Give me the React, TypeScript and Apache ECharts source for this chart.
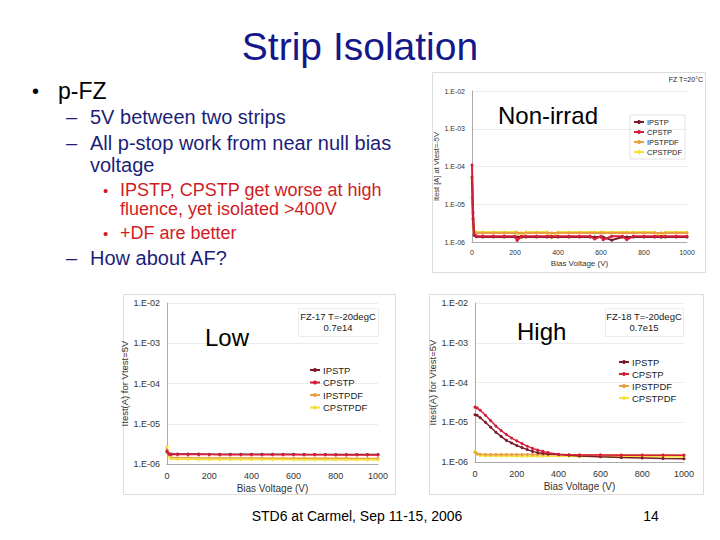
import React, { useEffect, useRef } from "react";
import * as echarts from "echarts";

// ---------- data ----------
const seriesNames = ["IPSTP", "CPSTP", "IPSTPDF", "CPSTPDF"];
const xTicks = [0, 200, 400, 600, 800, 1000];

// Non-irradiated (FZ T=20°C)
const voltsNon = [0, 5, 10, 20, 50, 100, 150, 200, 210, 230, 250, 300, 350, 370, 400, 450, 500, 550, 570, 600, 610, 650, 700, 720, 750, 800, 850, 880, 900, 950, 1000];
const nonIPSTP = [5.2e-5, 4e-6, 1.5e-6, 1.38e-6, 1.36e-6, 1.36e-6, 1.35e-6, 1.35e-6, 1.35e-6, 1.35e-6, 1.35e-6, 1.35e-6, 1.35e-6, 1.35e-6, 1.35e-6, 1.35e-6, 1.35e-6, 1.35e-6, 1.35e-6, 1.35e-6, 1.35e-6, 1.12e-6, 1.35e-6, 1.35e-6, 1.35e-6, 1.35e-6, 1.35e-6, 1.35e-6, 1.35e-6, 1.35e-6, 1.35e-6];
const nonCPSTP = [1.1e-4, 6e-6, 1.6e-6, 1.45e-6, 1.43e-6, 1.43e-6, 1.43e-6, 1.42e-6, 1.1e-6, 1.42e-6, 1.42e-6, 1.42e-6, 1.42e-6, 1.42e-6, 1.42e-6, 1.42e-6, 1.42e-6, 1.42e-6, 1.2e-6, 1.42e-6, 1.15e-6, 1.42e-6, 1.42e-6, 1.15e-6, 1.42e-6, 1.42e-6, 1.42e-6, 1.42e-6, 1.42e-6, 1.42e-6, 1.42e-6];
const nonIPSTPDF = [1.5e-5, 2.5e-6, 1.8e-6, 1.75e-6, 1.74e-6, 1.74e-6, 1.74e-6, 1.74e-6, 1.74e-6, 1.74e-6, 1.74e-6, 1.74e-6, 1.74e-6, 1.74e-6, 1.74e-6, 1.74e-6, 1.74e-6, 1.74e-6, 1.74e-6, 1.74e-6, 1.74e-6, 1.74e-6, 1.74e-6, 1.74e-6, 1.74e-6, 1.74e-6, 1.74e-6, 1.74e-6, 1.74e-6, 1.74e-6, 1.74e-6];
const nonCPSTPDF = [4.5e-5, 3e-6, 1.9e-6, 1.85e-6, 1.84e-6, 1.84e-6, 1.84e-6, 1.84e-6, 1.84e-6, 1.3e-6, 1.84e-6, 1.84e-6, 1.84e-6, 1.3e-6, 1.84e-6, 1.84e-6, 1.84e-6, 1.84e-6, 1.84e-6, 1.84e-6, 1.84e-6, 1.84e-6, 1.84e-6, 1.84e-6, 1.84e-6, 1.84e-6, 1.84e-6, 1.3e-6, 1.84e-6, 1.84e-6, 1.84e-6];

// Low fluence (FZ-17, 0.7e14)
const voltsLow = [0, 10, 20, 50, 100, 150, 200, 250, 300, 350, 400, 450, 500, 550, 600, 650, 700, 750, 800, 850, 900, 950, 1000];
const lowIPSTP = [2.0e-6, 1.8e-6, 1.77e-6, 1.76e-6, 1.76e-6, 1.76e-6, 1.75e-6, 1.75e-6, 1.75e-6, 1.75e-6, 1.75e-6, 1.74e-6, 1.74e-6, 1.74e-6, 1.74e-6, 1.73e-6, 1.73e-6, 1.73e-6, 1.72e-6, 1.72e-6, 1.72e-6, 1.71e-6, 1.71e-6];
const lowCPSTP = [2.1e-6, 1.75e-6, 1.72e-6, 1.72e-6, 1.71e-6, 1.71e-6, 1.71e-6, 1.7e-6, 1.7e-6, 1.7e-6, 1.7e-6, 1.7e-6, 1.7e-6, 1.7e-6, 1.69e-6, 1.69e-6, 1.69e-6, 1.69e-6, 1.68e-6, 1.68e-6, 1.68e-6, 1.68e-6, 1.68e-6];
const lowIPSTPDF = [2.3e-6, 1.6e-6, 1.45e-6, 1.42e-6, 1.42e-6, 1.41e-6, 1.41e-6, 1.41e-6, 1.4e-6, 1.4e-6, 1.4e-6, 1.4e-6, 1.39e-6, 1.39e-6, 1.39e-6, 1.39e-6, 1.38e-6, 1.38e-6, 1.38e-6, 1.38e-6, 1.37e-6, 1.37e-6, 1.37e-6];
const lowCPSTPDF = [2.7e-6, 1.5e-6, 1.33e-6, 1.31e-6, 1.31e-6, 1.3e-6, 1.3e-6, 1.3e-6, 1.3e-6, 1.3e-6, 1.29e-6, 1.29e-6, 1.29e-6, 1.29e-6, 1.28e-6, 1.28e-6, 1.28e-6, 1.28e-6, 1.27e-6, 1.27e-6, 1.27e-6, 1.26e-6, 1.26e-6];

// High fluence (FZ-18, 0.7e15)
const voltsHigh = [0, 10, 25, 50, 75, 100, 125, 150, 175, 200, 225, 250, 275, 300, 325, 350, 400, 450, 500, 600, 700, 800, 900, 1000];
const highIPSTP = [1.55e-5, 1.5e-5, 1.3e-5, 1.0e-5, 7.5e-6, 5.6e-6, 4.4e-6, 3.5e-6, 3.0e-6, 2.6e-6, 2.3e-6, 2.05e-6, 1.85e-6, 1.72e-6, 1.65e-6, 1.6e-6, 1.55e-6, 1.48e-6, 1.42e-6, 1.35e-6, 1.3e-6, 1.26e-6, 1.22e-6, 1.2e-6];
const highCPSTP = [2.4e-5, 2.3e-5, 2.0e-5, 1.5e-5, 1.1e-5, 8.0e-6, 6.2e-6, 4.9e-6, 4.0e-6, 3.4e-6, 2.9e-6, 2.5e-6, 2.2e-6, 2.0e-6, 1.85e-6, 1.72e-6, 1.56e-6, 1.52e-6, 1.5e-6, 1.49e-6, 1.48e-6, 1.48e-6, 1.47e-6, 1.47e-6];
const highIPSTPDF = [1.75e-6, 1.6e-6, 1.56e-6, 1.55e-6, 1.55e-6, 1.55e-6, 1.55e-6, 1.55e-6, 1.55e-6, 1.55e-6, 1.55e-6, 1.54e-6, 1.54e-6, 1.54e-6, 1.54e-6, 1.54e-6, 1.53e-6, 1.53e-6, 1.53e-6, 1.52e-6, 1.52e-6, 1.51e-6, 1.51e-6, 1.5e-6];
const highCPSTPDF = [1.85e-6, 1.6e-6, 1.45e-6, 1.42e-6, 1.41e-6, 1.41e-6, 1.41e-6, 1.41e-6, 1.41e-6, 1.4e-6, 1.4e-6, 1.4e-6, 1.4e-6, 1.4e-6, 1.4e-6, 1.4e-6, 1.39e-6, 1.39e-6, 1.38e-6, 1.38e-6, 1.37e-6, 1.36e-6, 1.36e-6, 1.35e-6];

const colors = ["#7a1a2a", "#d41f3c", "#e8a040", "#f2e23a"];

// ---------- helpers ----------
const zip = (xs: number[], ys: number[]) => xs.map((x, i) => [x, ys[i]]);
const fmtExp = (v: number) => {
  const e = Math.round(Math.log10(v));
  return "1.E-" + String(-e).padStart(2, "0");
};
const font = "'Liberation Sans', Arial, sans-serif";

function makeXAxis(gridIndex: number, fs: number, nameFs: number, nameGap: number) {
  return {
    type: "value",
    gridIndex,
    min: xTicks[0],
    max: xTicks[xTicks.length - 1],
    interval: 200,
    name: "Bias Voltage (V)",
    nameLocation: "middle",
    nameGap,
    nameTextStyle: { fontSize: nameFs, color: "#333", fontFamily: font },
    axisLine: { show: true, lineStyle: { color: "#aaa" } },
    axisTick: { show: false },
    axisLabel: { fontSize: fs, color: "#333", fontFamily: font, margin: 7, formatter: (v: number) => String(v) },
    splitLine: { show: false },
  };
}
function makeYAxis(gridIndex: number, name: string, fs: number, nameFs: number, nameGap: number) {
  return {
    type: "log",
    logBase: 10,
    gridIndex,
    min: 1e-6,
    max: 1e-2,
    name,
    nameLocation: "middle",
    nameGap,
    nameTextStyle: { fontSize: nameFs, color: "#333", fontFamily: font },
    axisLine: { show: true, lineStyle: { color: "#aaa" } },
    axisTick: { show: false },
    axisLabel: { fontSize: fs, color: "#333", fontFamily: font, margin: 7, formatter: fmtExp },
    splitLine: { show: true, lineStyle: { color: "#ececec", width: 1 } },
  };
}
function mkSeries(name: string, idx: number, axisIndex: number, xs: number[], ys: number[], lw: number, sym: number, z: number) {
  return {
    name,
    type: "line",
    xAxisIndex: axisIndex,
    yAxisIndex: axisIndex,
    data: zip(xs, ys),
    color: colors[idx],
    showSymbol: true,
    symbol: "circle",
    symbolSize: sym,
    lineStyle: { width: lw, color: colors[idx] },
    itemStyle: { color: colors[idx] },
    z,
  };
}
function mkLegend(left: number, top: number, fs: number, gap: number, border: boolean) {
  return {
    data: seriesNames,
    orient: "vertical",
    left,
    top,
    itemWidth: 10,
    itemHeight: 5,
    itemGap: gap,
    padding: border ? [3, 3, 3, 3] : 0,
    borderColor: border ? "#e2e2e2" : "transparent",
    borderWidth: border ? 1 : 0,
    textStyle: { fontSize: fs, color: "#222", fontFamily: font, padding: [0, 0, 0, -2] },
    selectedMode: false,
  };
}

function txt(text: string, x: number, y: number, size: number, color: string, align = "left", weight = "normal") {
  return {
    type: "text",
    x,
    y,
    z: 50,
    style: { text, fontSize: size, fill: color, fontFamily: font, align, verticalAlign: "middle", fontWeight: weight },
  };
}
function frame(x: number, y: number, w: number, h: number, stroke: string) {
  return { type: "rect", z: -10, shape: { x, y, width: w, height: h }, style: { fill: "#fff", stroke, lineWidth: 1 } };
}

export default function App() {
  const ref = useRef<HTMLDivElement>(null);
  useEffect(() => {
    if (!ref.current) return;
    const chart = echarts.init(ref.current, null, { renderer: "svg" });
    const navy = "#1c1f78";
    const red = "#d01c1f";
    const option: any = {
      animation: false,
      backgroundColor: "#ffffff",
      grid: [
        { left: 472, top: 91, width: 215, height: 151 },
        { left: 167, top: 303, width: 211, height: 161 },
        { left: 475, top: 303, width: 209, height: 159 },
      ],
      xAxis: [makeXAxis(0, 7, 8, 17), makeXAxis(1, 9, 10, 19), makeXAxis(2, 9, 10, 19)],
      yAxis: [
        makeYAxis(0, "Itest [A] at Vtest=-5V", 7, 7.5, 30),
        makeYAxis(1, "Itest(A) for Vtest=5V", 9, 9.5, 33),
        makeYAxis(2, "Itest(A) for Vtest=5V", 9, 9.5, 33),
      ],
      legend: [mkLegend(630, 115, 7.5, 2, true), mkLegend(309, 365, 9.5, 2.5, false), mkLegend(618, 357, 9.5, 2, false)],
      series: [
        mkSeries("CPSTPDF", 3, 0, voltsNon, nonCPSTPDF, 2, 3, 2),
        mkSeries("IPSTPDF", 2, 0, voltsNon, nonIPSTPDF, 2, 3, 3),
        mkSeries("IPSTP", 0, 0, voltsNon, nonIPSTP, 2, 3, 4),
        mkSeries("CPSTP", 1, 0, voltsNon, nonCPSTP, 2, 3, 5),

        mkSeries("IPSTP", 0, 1, voltsLow, lowIPSTP, 1.5, 3, 3),
        mkSeries("CPSTP", 1, 1, voltsLow, lowCPSTP, 1.5, 3, 4),
        mkSeries("IPSTPDF", 2, 1, voltsLow, lowIPSTPDF, 1.5, 3, 2),
        mkSeries("CPSTPDF", 3, 1, voltsLow, lowCPSTPDF, 1.5, 3, 2),

        mkSeries("CPSTPDF", 3, 2, voltsHigh, highCPSTPDF, 1.5, 3, 2),
        mkSeries("IPSTPDF", 2, 2, voltsHigh, highIPSTPDF, 1.5, 3, 3),
        mkSeries("IPSTP", 0, 2, voltsHigh, highIPSTP, 1.5, 3, 4),
        mkSeries("CPSTP", 1, 2, voltsHigh, highCPSTP, 1.5, 3, 5),
      ],
      graphic: {
        elements: [
          frame(432.5, 72.5, 273, 200, "#dcdcdc"),
          frame(123.5, 294.5, 272, 200, "#dcdcdc"),
          frame(429.5, 294.5, 274, 200, "#dcdcdc"),
          frame(298.5, 308.5, 80, 28, "#ececec"),
          frame(605.5, 308.5, 78, 28, "#ececec"),

          txt("Strip Isolation", 360, 46, 39, "#15188a", "center"),
          txt("•", 32, 91, 20, "#000"),
          txt("p-FZ", 58, 91, 23, "#000"),
          txt("–", 66, 117, 20, navy),
          txt("5V between two strips", 90, 117, 20, navy),
          txt("–", 66, 143, 20, navy),
          txt("All p-stop work from near null bias", 90, 143, 20, navy),
          txt("voltage", 90, 165, 20, navy),
          txt("•", 103, 190, 15, red),
          txt("IPSTP, CPSTP get worse at high", 120, 190, 18, red),
          txt("fluence, yet isolated >400V", 120, 209, 18, red),
          txt("•", 103, 233, 15, red),
          txt("+DF are better", 120, 233, 18, red),
          txt("–", 66, 258, 20, navy),
          txt("How about AF?", 90, 258, 20, navy),

          txt("FZ T=20°C", 703, 79, 7, "#222", "right"),
          txt("Non-irrad", 498, 115, 24, "#000"),
          txt("FZ-17 T=-20degC", 338, 316, 9.5, "#222", "center"),
          txt("0.7e14", 338, 327, 9.5, "#222", "center"),
          txt("Low", 205, 337, 24, "#000"),
          txt("FZ-18 T=-20degC", 644, 316, 9.5, "#222", "center"),
          txt("0.7e15", 644, 327, 9.5, "#222", "center"),
          txt("High", 517, 331, 24, "#000"),

          txt("STD6 at Carmel, Sep 11-15, 2006", 357, 516, 14, "#000", "center"),
          txt("14", 651, 516, 14, "#000", "center"),
        ],
      },
    };
    chart.setOption(option);
    return () => chart.dispose();
  }, []);
  return <div ref={ref} style={{ position: "absolute", left: 0, top: 0, width: 720, height: 540 }} />;
}
